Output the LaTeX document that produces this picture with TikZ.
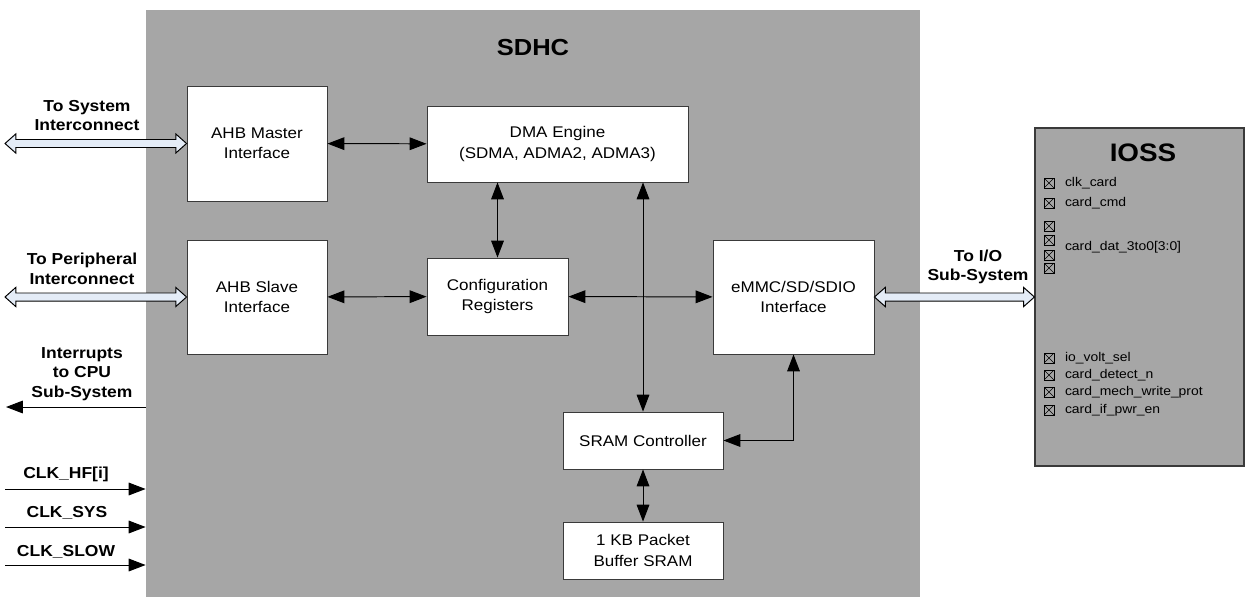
\documentclass[tikz,border=0pt]{standalone}
\usepackage{fontspec}
\setmainfont{Liberation Sans}[FakeStretch=1.1]
\usetikzlibrary{arrows.meta, positioning, calc}
\definecolor{cgrey}{HTML}{A6A6A6}
\definecolor{cline}{HTML}{3A3A3A}
\definecolor{cbus}{HTML}{E4ECF7}
\tikzset{
  block/.style={draw=cline, fill=white, align=center, inner sep=2pt, line width=0.6pt, font=\fontsize{11}{14.4}\selectfont},
  link/.style={{Triangle[length=12pt, width=9pt]}-{Triangle[length=12pt, width=9pt]}, line width=0.7pt},
  sig/.style={-{Triangle[length=12pt, width=9pt]}, line width=0.7pt},
  bus/.style={draw=black, fill=cbus, line width=0.7pt},
  lbl/.style={font=\bfseries\fontsize{11.3}{14}\selectfont, align=center, inner sep=0pt},
  title/.style={font=\bfseries\fontsize{16.5}{20}\selectfont, inner sep=0pt},
  pin/.style={draw=black, line width=0.45pt, minimum size=0.25cm, inner sep=0pt,
    path picture={\draw[line width=0.45pt] (path picture bounding box.south west) -- (path picture bounding box.north east)
      (path picture bounding box.north west) -- (path picture bounding box.south east);}},
  pinname/.style={font=\fontsize{9}{10}\selectfont, anchor=west, inner sep=0pt},
}

\begin{document}
\begin{tikzpicture}[x=0.025cm, y=-0.025cm]
  \useasboundingbox (0,0) rectangle (1246,599);
  % hollow two-way bus arrow, horizontal, from node #1 to node #2
  \newcommand{\busarrow}[2]{%
    \path[bus] let \p1=(#1), \p2=(#2) in
      (\x1,\y1) -- (\x1+0.27cm,\y1+0.24cm) -- (\x1+0.27cm,\y1+0.1cm) -- (\x2-0.27cm,\y1+0.1cm)
      -- (\x2-0.27cm,\y1+0.24cm) -- (\x2,\y1) -- (\x2-0.27cm,\y1-0.24cm) -- (\x2-0.27cm,\y1-0.1cm)
      -- (\x1+0.27cm,\y1-0.1cm) -- (\x1+0.27cm,\y1-0.24cm) -- cycle;}

  % SDHC block
  \node[fill=cgrey, minimum width=19.35cm, minimum height=14.675cm, inner sep=0pt] (sdhc) at (533,303.5) {};
  \node[title] (sdhcname) at (533,48) {SDHC};

  \node[block, minimum width=3.5cm, minimum height=2.875cm] (mst) at (257,143.5) {AHB Master\\Interface};
  \node[block, minimum width=3.5cm, minimum height=2.85cm] (slv) at (257,297) {AHB Slave\\Interface};
  \node[block, minimum width=6.525cm, minimum height=1.9cm] (dma) at (557.5,144) {DMA Engine\\(SDMA, ADMA2, ADMA3)};
  \node[block, minimum width=3.525cm, minimum height=1.925cm] (cfg) at (497.5,296.5) {Configuration\\Registers};
  \node[block, minimum width=4.025cm, minimum height=2.85cm] (emmc) at (793.5,297) {eMMC/SD/SDIO\\Interface};
  \node[block, minimum width=4cm, minimum height=1.425cm] (sram) at (643,440.5) {SRAM Controller};
  \node[block, minimum width=4cm, minimum height=1.425cm] (buf) at (643,550.5) {1 KB Packet\\Buffer SRAM};

  \draw[link] (mst) -- (dma);
  \draw[link] (slv) -- (cfg);
  \draw[link] (cfg) -- (emmc);
  \draw[link] (cfg.north) -- (cfg.north |- dma.south);
  \draw[link] (sram.north) -- (sram.north |- dma.south);
  \draw[link] (sram) -- (buf);
  \draw[link] (sram.east) -| (emmc.south);

  % left side
  \coordinate (sysext) at (5,143.5);
  \coordinate (perext) at (5,297);
  \coordinate (irqout) at (6,407);
  \coordinate (hfin) at (5,489);
  \coordinate (sysin) at (5,527);
  \coordinate (slowin) at (5,565);
  \busarrow{sysext}{mst.west}
  \busarrow{perext}{slv.west}
  \node[lbl] (syslbl) at (87,115.5) {To System\\Interconnect};
  \node[lbl] (perlbl) at (82,268.5) {To Peripheral\\Interconnect};
  \node[lbl] (irqlbl) at (82,374) {Interrupts\\to CPU\\Sub-System};
  \draw[sig] (irqout -| sdhc.west) -- (irqout);
  \draw[sig] (hfin) -- (hfin -| sdhc.west);
  \draw[sig] (sysin) -- (sysin -| sdhc.west);
  \draw[sig] (slowin) -- (slowin -| sdhc.west);
  \node[lbl] (hflbl) at (66,474) {CLK\_HF[i]};
  \node[lbl] (syslbl2) at (67,513) {CLK\_SYS};
  \node[lbl] (slowlbl) at (66,552) {CLK\_SLOW};

  % IOSS
  \node[draw=cline, fill=cgrey, line width=0.8pt, minimum width=5.225cm, minimum height=8.45cm, inner sep=0pt] (ioss) at (1139.5,297) {};
  \node[title, font=\bfseries\fontsize{18}{20}\selectfont] (iossname) at (1143,153) {IOSS};
  \busarrow{emmc.east}{ioss.west}
  \node[lbl] (iolbl) at (978,267) {To I/O\\Sub-System};
  \foreach \y [count=\i] in {183,203,226,240,255,268,358,375,392,410}
    \node[pin] (p\i) at (1049,\y) {};
  \foreach \i/\t in {1/clk\_card, 2/card\_cmd, 7/io\_volt\_sel, 8/card\_detect\_n, 9/card\_mech\_write\_prot, 10/card\_if\_pwr\_en}
    \node[pinname, right=0.26cm of p\i] (n\i) {\t};
  \node[pinname] (n4) at ($(p4.east)!0.5!(p5.east)+(0.26cm,0)$) {card\_dat\_3to0[3:0]};
\end{tikzpicture}
\end{document}
